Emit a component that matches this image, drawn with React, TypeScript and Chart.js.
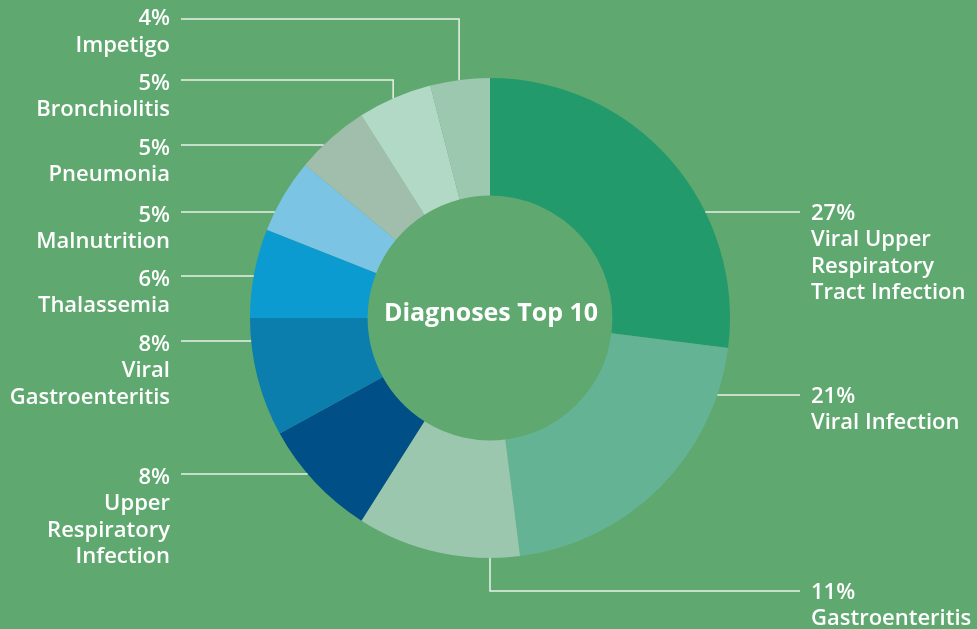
import React, { useEffect, useRef } from "react";
import { Chart, registerables } from "chart.js";

Chart.register(...registerables);

const categories = [
  "Viral Upper Respiratory Tract Infection",
  "Viral Infection",
  "Gastroenteritis",
  "Upper Respiratory Infection",
  "Viral Gastroenteritis",
  "Thalassemia",
  "Malnutrition",
  "Pneumonia",
  "Bronchiolitis",
  "Impetigo",
];
const values = [27, 21, 11, 8, 8, 6, 5, 5, 5, 4];
const labelLines = [
  ["Viral Upper", "Respiratory", "Tract Infection"],
  ["Viral Infection"],
  ["Gastroenteritis"],
  ["Upper", "Respiratory", "Infection"],
  ["Viral", "Gastroenteritis"],
  ["Thalassemia"],
  ["Malnutrition"],
  ["Pneumonia"],
  ["Bronchiolitis"],
  ["Impetigo"],
];
const colors = [
  "#239a6b",
  "#64b395",
  "#9ac7ae",
  "#004f87",
  "#0b7eae",
  "#0b9bd0",
  "#7cc4e4",
  "#a1bdac",
  "#b2d9c5",
  "#9bc8af",
];
const centerTitle = "Diagnoses Top 10";

// label layout: side, leader y, and optional elbow (vertical segment) angle in degrees from top
const labelLayout = [
  { side: "right", y: 212 },
  { side: "right", y: 395 },
  { side: "right", y: 591, elbowDeg: 180 },
  { side: "left", y: 474 },
  { side: "left", y: 341 },
  { side: "left", y: 276 },
  { side: "left", y: 212 },
  { side: "left", y: 145 },
  { side: "left", y: 80, elbowDeg: 336.2 },
  { side: "left", y: 19, elbowDeg: 352.6 },
];

const BG = "#5fa86f";
const FONT = "'Open Sans', sans-serif";

const leaderPlugin = {
  id: "leaders",
  afterDraw(chart: any) {
    const ctx = chart.ctx;
    const arc = chart.getDatasetMeta(0).data[0];
    if (!arc) return;
    const cx = arc.x;
    const cy = arc.y;
    const R = arc.outerRadius;
    ctx.save();
    ctx.strokeStyle = "#e9f2ea";
    ctx.lineWidth = 1.5;
    ctx.fillStyle = "#ffffff";
    ctx.font = `600 22px ${FONT}`;
    labelLayout.forEach((L, i) => {
      const y = L.y;
      const lineEnd = L.side === "left" ? 181 : 800;
      ctx.beginPath();
      if (L.elbowDeg !== undefined) {
        const a = (L.elbowDeg * Math.PI) / 180;
        const ex = cx + R * Math.sin(a);
        const ey = cy - R * Math.cos(a);
        ctx.moveTo(ex, ey);
        ctx.lineTo(ex, y);
        ctx.lineTo(lineEnd, y);
      } else {
        const dy = y - cy;
        const dx = Math.sqrt(Math.max(0, R * R - dy * dy));
        const sx = L.side === "left" ? cx - dx : cx + dx;
        ctx.moveTo(sx, y);
        ctx.lineTo(lineEnd, y);
      }
      ctx.stroke();
      const lines = [values[i] + "%", ...labelLines[i]];
      ctx.textAlign = L.side === "left" ? "right" : "left";
      ctx.textBaseline = "alphabetic";
      const tx = L.side === "left" ? 170 : 811;
      const base = y + (L.elbowDeg !== undefined && L.side === "left" && L.y < 40 ? 6 : L.side === "left" ? 9.5 : 7.5);
      lines.forEach((t, k) => {
        ctx.fillText(t, tx, base + k * 26.5);
      });
    });
    ctx.font = `700 25px ${FONT}`;
    ctx.textAlign = "center";
    ctx.textBaseline = "alphabetic";
    ctx.fillText(centerTitle, cx + 1, 321);
    ctx.restore();
  },
};

export default function App() {
  const ref = useRef<HTMLCanvasElement | null>(null);
  useEffect(() => {
    document.body.style.margin = "0";
    document.body.style.background = BG;
    const canvas = ref.current!;
    const chart = new Chart(canvas, {
      type: "doughnut",
      data: {
        labels: categories,
        datasets: [
          {
            data: values,
            backgroundColor: colors,
            borderWidth: 0,
          },
        ],
      },
      options: {
        animation: false,
        responsive: false,
        cutout: "51%",
        layout: { padding: { top: 78, bottom: 71, left: 250, right: 247 } },
        plugins: {
          legend: { display: false },
          tooltip: { enabled: false },
        },
      },
      plugins: [leaderPlugin],
    });
    return () => chart.destroy();
  }, []);
  return (
    <div style={{ position: "fixed", left: 0, top: 0, width: 977, height: 629, background: BG }}>
      <canvas ref={ref} width={977} height={629} style={{ width: 977, height: 629, display: "block" }} />
    </div>
  );
}
